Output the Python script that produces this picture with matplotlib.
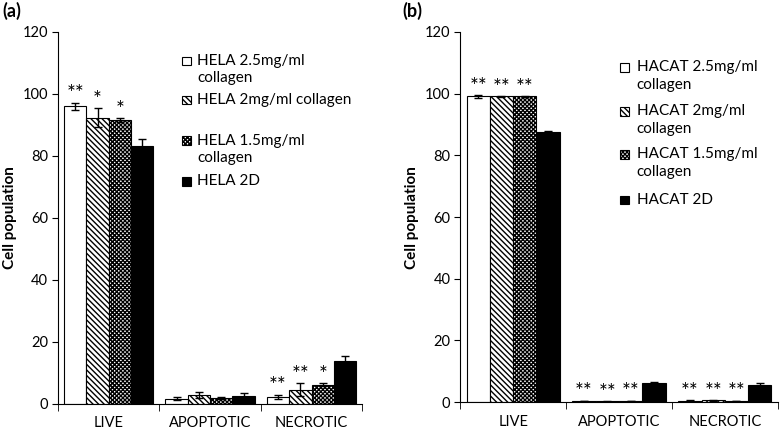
import numpy as np
import matplotlib
matplotlib.use("Agg")
import matplotlib.pyplot as plt
from matplotlib.patches import Rectangle

plt.rcParams['font.family'] = ['Lato', 'DejaVu Sans']
plt.rcParams['hatch.linewidth'] = 1.0

categories = ["LIVE", "APOPTOTIC", "NECROTIC"]

hela_labels = ["HELA 2.5mg/ml\ncollagen", "HELA 2mg/ml collagen",
               "HELA 1.5mg/ml\ncollagen", "HELA 2D"]
hela_values = [
    [96.0, 1.7, 2.2],
    [92.4, 3.0, 4.6],
    [91.5, 1.8, 6.2],
    [83.2, 2.6, 13.7],
]
hela_errors = [
    [1.2, 0.5, 0.7],
    [3.0, 1.0, 2.0],
    [0.7, 0.3, 0.5],
    [2.4, 0.8, 1.8],
]
hela_stars = [
    ["**", "", "**"],
    ["*", "", "**"],
    ["*", "", "*"],
    ["", "", ""],
]

hacat_labels = ["HACAT 2.5mg/ml\ncollagen", "HACAT 2mg/ml\ncollagen",
                "HACAT 1.5mg/ml\ncollagen", "HACAT 2D"]
hacat_values = [
    [99.1, 0.4, 0.5],
    [99.1, 0.3, 0.6],
    [99.1, 0.4, 0.4],
    [87.7, 6.2, 5.5],
]
hacat_errors = [
    [0.4, 0.1, 0.1],
    [0.1, 0.1, 0.1],
    [0.1, 0.1, 0.1],
    [0.1, 0.3, 0.7],
]
hacat_stars = [
    ["**", "**", "**"],
    ["**", "**", "**"],
    ["**", "**", "**"],
    ["", "", ""],
]

styles = [
    dict(facecolor="white", hatch=None),
    dict(facecolor="white", hatch="\\\\\\\\\\\\"),
    dict(facecolor="white", hatch="xxxxxxxx"),
    dict(facecolor="black", hatch=None),
]

bar_w = 0.22


def draw_panel(ax, values, errors, stars, labels, legend_x, legend_rows):
    x = np.arange(len(categories))
    for i in range(4):
        pos = x + (i - 1.5) * bar_w
        ax.bar(pos, values[i], bar_w, yerr=errors[i], color=styles[i]["facecolor"],
               hatch=styles[i]["hatch"], edgecolor="black", linewidth=0.8,
               error_kw=dict(ecolor="black", elinewidth=1.0, capsize=3, capthick=1.0))
        for j in range(len(categories)):
            if stars[i][j]:
                ax.text(pos[j], values[i][j] + errors[i][j] - 0.5, stars[i][j],
                        ha="center", va="bottom", fontsize=15)

    ax.set_xlim(-0.5, 2.5)
    ax.set_ylim(0, 120)
    ax.set_yticks(range(0, 121, 20))
    ax.set_xticks(x)
    ax.set_xticklabels(categories, fontsize=10.5)
    ax.set_xticks([-0.5, 0.5, 1.5, 2.5], minor=True)
    ax.tick_params(axis="x", which="major", length=0, pad=9)
    ax.tick_params(axis="x", which="minor", length=5, direction="out")
    ax.tick_params(axis="y", length=4, labelsize=10.5, pad=3)
    for side in ["top", "right"]:
        ax.spines[side].set_visible(False)
    ax.set_ylabel("Cell population", fontsize=11, fontweight="bold", labelpad=4)

    px, tx = legend_x
    for i, (lab, row) in enumerate(zip(labels, legend_rows)):
        ax.add_patch(Rectangle((px, row - 0.012), 0.03, 0.024, transform=ax.transAxes,
                               facecolor=styles[i]["facecolor"], hatch=styles[i]["hatch"],
                               edgecolor="black", linewidth=0.8, clip_on=False))
        ax.text(tx, row + 0.02, lab, transform=ax.transAxes, fontsize=11,
                va="top", ha="left", linespacing=1.35)


fig = plt.figure(figsize=(7.84, 4.32), dpi=100)
ax1 = fig.add_axes([0.074, 0.065, 0.388, 0.861])
ax2 = fig.add_axes([0.587, 0.069, 0.405, 0.857])

draw_panel(ax1, hela_values, hela_errors, hela_stars, hela_labels,
           (0.408, 0.457), [0.922, 0.817, 0.707, 0.597])
draw_panel(ax2, hacat_values, hacat_errors, hacat_stars, hacat_labels,
           (0.503, 0.556), [0.903, 0.786, 0.670, 0.546])

fig.text(0.003, 0.995, "(a)", fontsize=13, fontweight="bold", va="top", ha="left")
fig.text(0.513, 0.995, "(b)", fontsize=13, fontweight="bold", va="top", ha="left")

fig.savefig("out.png", dpi=100)
